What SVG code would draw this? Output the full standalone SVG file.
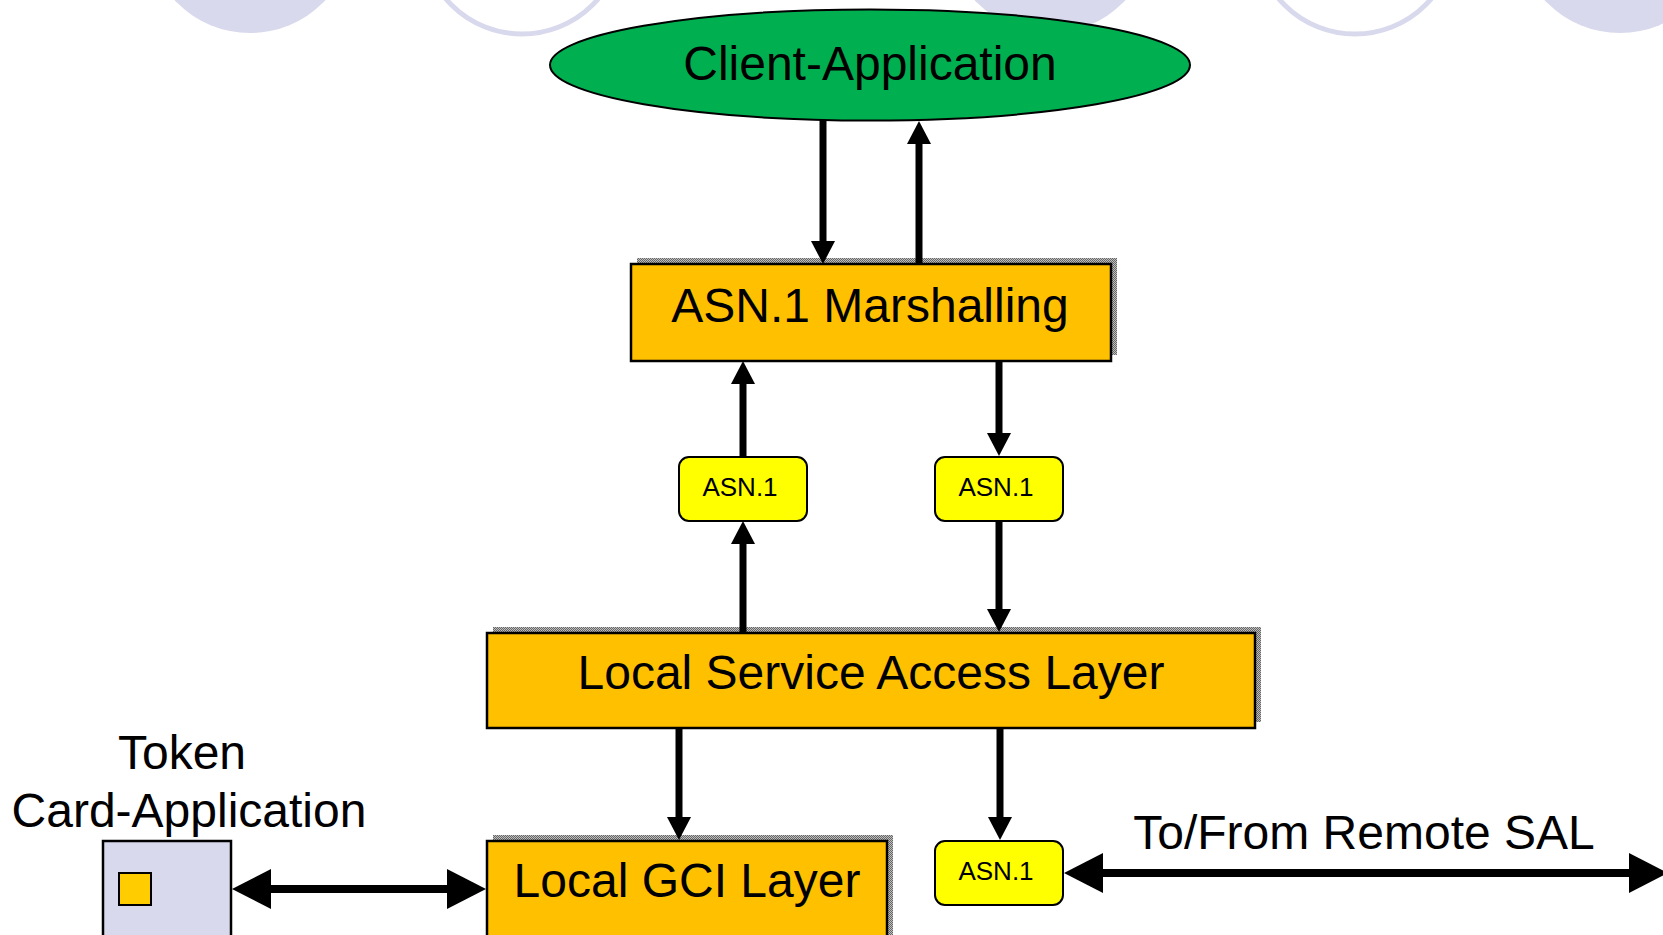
<svg xmlns="http://www.w3.org/2000/svg" width="1663" height="935" viewBox="0 0 1663 935">
  <defs>
    <style>
      .deco-fill { fill: #D9D9ED; stroke: none; }
      .deco-ring { fill: none; stroke: #D9D9ED; stroke-width: 5; }
      .layer { fill: #FFC000; stroke: #000; stroke-width: 2.5; }
      .shadow { fill: url(#halftone); stroke: none; }
      .asn { fill: #FFFF00; stroke: #000; stroke-width: 2; }
      .big { font-family: "Liberation Sans", Arial, sans-serif; font-size: 48px; fill: #000; text-anchor: middle; }
      .small { font-family: "Liberation Sans", Arial, sans-serif; font-size: 26px; fill: #000; text-anchor: middle; }
      .vline { stroke: #000; stroke-width: 7; fill: none; marker-end: url(#head); }
      .hline { stroke: #000; stroke-width: 8; fill: none; marker-start: url(#bighead); marker-end: url(#bighead); }
    </style>
    <pattern id="halftone" width="2" height="2" patternUnits="userSpaceOnUse">
      <rect width="2" height="2" fill="#BEBEBE"/>
      <rect width="1" height="1" fill="#666666"/>
      <rect x="1" y="1" width="1" height="1" fill="#666666"/>
    </pattern>
    <marker id="head" markerUnits="userSpaceOnUse" viewBox="0 0 23 24" refX="1" refY="12" markerWidth="23" markerHeight="24" orient="auto">
      <path d="M0,0 L23,12 L0,24 Z" fill="#000"/>
    </marker>
    <marker id="bighead" markerUnits="userSpaceOnUse" viewBox="0 0 39 40" refX="1" refY="20" markerWidth="39" markerHeight="40" orient="auto-start-reverse">
      <path d="M0,0 L39,20 L0,40 Z" fill="#000"/>
    </marker>
  </defs>

  <rect width="1663" height="935" fill="#FFFFFF"/>

  <!-- decorative circles along the top edge -->
  <g id="decoration">
    <circle class="deco-fill" cx="250" cy="-70" r="103"/>
    <circle class="deco-ring" cx="522" cy="-66" r="100"/>
    <circle class="deco-fill" cx="1050" cy="-70" r="103"/>
    <circle class="deco-ring" cx="1355" cy="-66" r="100"/>
    <circle class="deco-fill" cx="1620" cy="-70" r="103"/>
  </g>

  <g id="client-application">
    <ellipse cx="870" cy="65" rx="320" ry="55.5" fill="#00B050" stroke="#000" stroke-width="2"/>
    <text class="big" x="870" y="80">Client-Application</text>
  </g>

  <g id="asn1-marshalling">
    <rect class="shadow" x="637" y="258" width="480" height="97"/>
    <rect class="layer" x="631" y="264" width="480" height="97"/>
    <text class="big" x="870" y="322">ASN.1 Marshalling</text>
  </g>

  <g id="asn1-up">
    <rect class="asn" x="679" y="457" width="128" height="64" rx="10"/>
    <text class="small" x="740" y="496">ASN.1</text>
  </g>

  <g id="asn1-down">
    <rect class="asn" x="935" y="457" width="128" height="64" rx="10"/>
    <text class="small" x="996" y="496">ASN.1</text>
  </g>

  <g id="local-sal">
    <rect class="shadow" x="493" y="627" width="768" height="95"/>
    <rect class="layer" x="487" y="633" width="768" height="95"/>
    <text class="big" x="871" y="689">Local Service Access Layer</text>
  </g>

  <g id="local-gci">
    <rect class="shadow" x="493" y="835" width="400" height="120"/>
    <rect class="layer" x="487" y="841" width="400" height="120"/>
    <text class="big" x="687" y="897">Local GCI Layer</text>
  </g>

  <g id="asn1-remote">
    <rect class="asn" x="935" y="841" width="128" height="64" rx="10"/>
    <text class="small" x="996" y="880">ASN.1</text>
  </g>

  <g id="token-card-application">
    <text class="big" x="182" y="769">Token</text>
    <text class="big" x="189" y="827">Card-Application</text>
    <rect x="103" y="841" width="128" height="120" fill="#D9D9ED" stroke="#000" stroke-width="2.5"/>
    <rect x="119" y="873" width="32" height="32" fill="#FFCC00" stroke="#000" stroke-width="2"/>
  </g>

  <g id="remote-sal-label">
    <text class="big" x="1364" y="849">To/From Remote SAL</text>
  </g>

  <g id="connectors">
    <line class="vline" x1="823" y1="120" x2="823" y2="242"/>
    <line class="vline" x1="919" y1="264" x2="919" y2="143"/>
    <line class="vline" x1="743" y1="457" x2="743" y2="383"/>
    <line class="vline" x1="999" y1="361" x2="999" y2="434"/>
    <line class="vline" x1="743" y1="633" x2="743" y2="543"/>
    <line class="vline" x1="999" y1="521" x2="999" y2="610"/>
    <line class="vline" x1="679" y1="728" x2="679" y2="818"/>
    <line class="vline" x1="1000" y1="728" x2="1000" y2="818"/>
    <line class="hline" x1="270" y1="889" x2="448" y2="889"/>
    <line class="hline" x1="1102" y1="873" x2="1630" y2="873"/>
  </g>
</svg>
